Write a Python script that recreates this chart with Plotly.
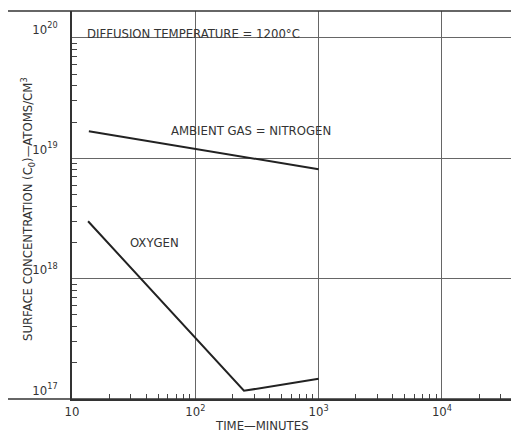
import math
import plotly.graph_objects as go

# ---- data ----
nitrogen_time = [13.7, 1000]          # minutes
nitrogen_conc = [1.68e19, 8.1e18]     # atoms/cm^3
oxygen_time = [13.5, 248, 1000]
oxygen_conc = [3.0e18, 1.17e17, 1.47e17]

x_tick_vals = [10, 100, 1000, 10000]
x_tick_text = ["10", "10<sup>2</sup>", "10<sup>3</sup>", "10<sup>4</sup>"]
y_tick_vals = [1e17, 1e18, 1e19, 1e20]
y_tick_text = ["10<sup>17</sup>", "10<sup>18</sup>", "10<sup>19</sup>", "10<sup>20</sup>"]

x_minor = [float(m) * 10.0 ** d for d in range(1, 5) for m in range(2, 10)]
y_minor = [float(m) * 10.0 ** d for d in range(17, 20) for m in range(2, 10)]

X_RANGE = [1, 4.625]
Y_RANGE = [17, 20.224]

FONT = "DejaVu Sans Condensed, Liberation Sans Narrow, sans-serif"
TXT = "#333333"

fig = go.Figure()
fig.add_trace(go.Scatter(x=nitrogen_time, y=nitrogen_conc, mode="lines",
                         line=dict(color="#222222", width=2), name="Nitrogen",
                         showlegend=False))
fig.add_trace(go.Scatter(x=oxygen_time, y=oxygen_conc, mode="lines",
                         line=dict(color="#222222", width=2), name="Oxygen",
                         showlegend=False))
# carrier trace for the overlay axes that hold the minor ticks
fig.add_trace(go.Scatter(x=[x_minor[0]], y=[y_minor[0]], xaxis="x2", yaxis="y2",
                         mode="markers", marker=dict(opacity=0), hoverinfo="skip",
                         showlegend=False))

# page body has an 8px margin, so the figure is sized to fill the remaining window
W, H = 511, 433
ml, mr, mt, mb = 64, 0, 3, 42
pw = W - ml - mr
ph = H - mt - mb

fig.update_layout(
    width=W, height=H,
    margin=dict(l=ml, r=mr, t=mt, b=mb, autoexpand=False),
    paper_bgcolor="white", plot_bgcolor="white",
    font=dict(family=FONT, color=TXT, size=13),
    showlegend=False,
)

fig.update_layout(
    xaxis=dict(
        type="log", range=X_RANGE,
        tickmode="array", tickvals=x_tick_vals, ticktext=x_tick_text,
        showgrid=True, gridcolor="#666666", gridwidth=1,
        showline=True, linecolor="#333333", linewidth=1.5,
        ticks="", zeroline=False,
        tickfont=dict(family=FONT, size=13, color=TXT),
    ),
    yaxis=dict(
        type="log", range=Y_RANGE,
        tickmode="array", tickvals=y_tick_vals, ticktext=y_tick_text,
        showgrid=True, gridcolor="#666666", gridwidth=1,
        showline=True, linecolor="#333333", linewidth=1.5,
        ticks="", zeroline=False,
        ticklabelstandoff=10, ticklabelshift=-9,
        tickfont=dict(family=FONT, size=13, color=TXT),
    ),
    xaxis2=dict(
        type="log", range=X_RANGE, overlaying="x", anchor="y", side="bottom",
        tickmode="array", tickvals=x_minor, ticks="inside", ticklen=5,
        tickcolor="#444444", tickwidth=1, showticklabels=False,
        showgrid=False, showline=False, zeroline=False,
    ),
    yaxis2=dict(
        type="log", range=Y_RANGE, overlaying="y", anchor="x", side="left",
        tickmode="array", tickvals=y_minor, ticks="inside", ticklen=5,
        tickcolor="#444444", tickwidth=1, showticklabels=False,
        showgrid=False, showline=False, zeroline=False,
    ),
)

# outer frame (left, top, bottom lines)
fx0 = (-1 - ml) / pw
frame = dict(color="#333333", width=1.5)
fig.add_shape(type="line", xref="paper", yref="paper", x0=fx0, x1=fx0, y0=0, y1=1, line=frame)
fig.add_shape(type="line", xref="paper", yref="paper", x0=fx0, x1=1.0, y0=1, y1=1, line=frame)
fig.add_shape(type="line", xref="paper", yref="paper", x0=fx0, x1=1.0, y0=0, y1=0, line=frame)

# text labels
LBL = dict(family=FONT, size=13, color=TXT)
fig.add_annotation(x=math.log10(12.7), y=math.log10(1.08e20), xref="x", yref="y",
                   text="DIFFUSION TEMPERATURE = 1200°C", showarrow=False,
                   xanchor="left", yanchor="middle", font=LBL)
fig.add_annotation(x=math.log10(61), y=math.log10(1.71e19), xref="x", yref="y",
                   text="AMBIENT GAS = NITROGEN", showarrow=False,
                   xanchor="left", yanchor="middle", font=LBL)
fig.add_annotation(x=math.log10(28.3), y=math.log10(2.0e18), xref="x", yref="y",
                   text="OXYGEN", showarrow=False,
                   xanchor="left", yanchor="middle", font=LBL)

# axis titles (window pixel targets minus the 8px page offset)
fig.add_annotation(x=(28 - 8 - ml) / pw, y=(mt + ph - (209 - 8)) / ph,
                   xref="paper", yref="paper",
                   text="SURFACE CONCENTRATION (C<sub>0</sub>)—ATOMS/CM<sup>3</sup>",
                   textangle=-90, showarrow=False, xanchor="center", yanchor="middle",
                   font=dict(family=FONT, size=13, color=TXT))
fig.add_annotation(x=(262 - 8 - ml) / pw, y=(mt + ph - (425 - 8)) / ph,
                   xref="paper", yref="paper",
                   text="TIME—MINUTES", showarrow=False, xanchor="center", yanchor="middle",
                   font=dict(family=FONT, size=13, color=TXT))

fig.write_html("out.html")
